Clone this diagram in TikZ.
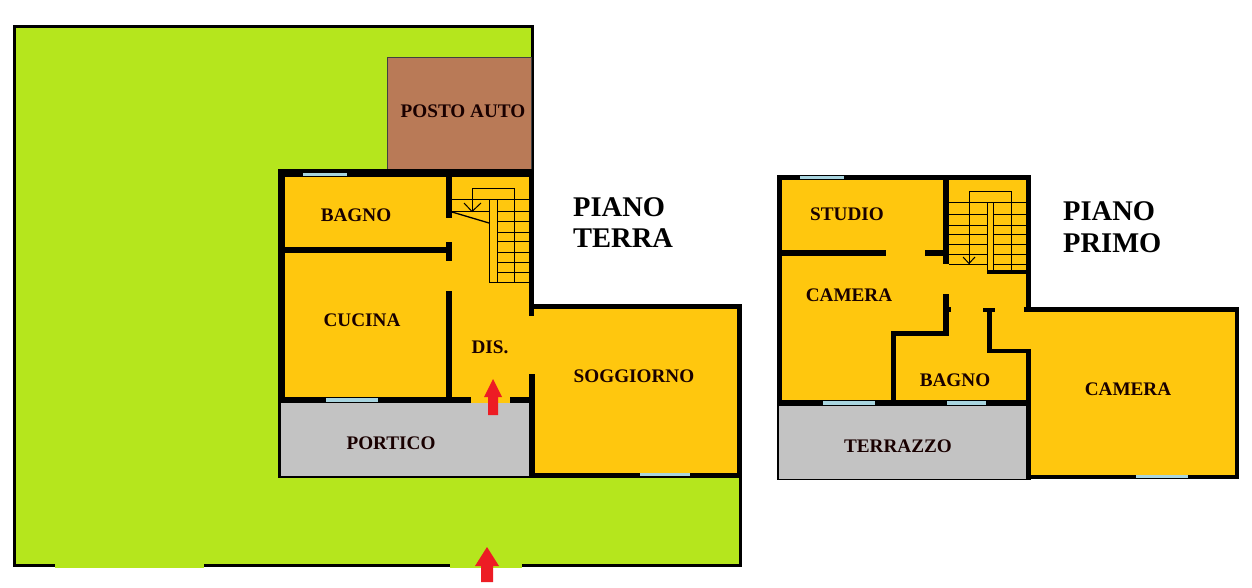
\documentclass[tikz,border=0pt]{standalone}
\usepackage{fontspec}
\setmainfont{Liberation Serif}
\definecolor{lawn}{HTML}{B5E61D}
\definecolor{floorc}{HTML}{FFC70E}
\definecolor{parkc}{HTML}{B97A57}
\definecolor{glass}{HTML}{A9D5DF}
\definecolor{greyc}{HTML}{C3C3C3}
\definecolor{redc}{HTML}{ED1C24}
\tikzset{
  wall/.style={fill=black,draw=none},
  glasspane/.style={fill=glass,draw=none},
  stair/.style={draw=black,line width=1pt,fill=none},
  roomlabel/.style={font=\bfseries\fontsize{19.2}{21}\selectfont,text=black!90!red,inner sep=0pt,anchor=center},
  titlelabel/.style={font=\bfseries\fontsize{28.5}{31}\selectfont,text=black,inner sep=0pt,anchor=base west},
  redarrow/.style={fill=redc,draw=none}
}
\begin{document}
\begin{tikzpicture}[x=1pt,y=-1pt]
\useasboundingbox (0,0) rectangle (1252,587);
\fill[white] (0,0) rectangle (1252,587);
% lawn
\fill[lawn,draw=black,line width=3pt] (14.5,26.5) -- (532.5,26.5) -- (532.5,306) -- (740.5,306) -- (740.5,565.5) -- (14.5,565.5) -- cycle;
\fill[lawn] (55,562) rectangle (204,568);
\fill[lawn] (450,562) rectangle (522,568);
% parking
\fill[parkc,draw=black!75,line width=1pt] (531,57.5) -- (387,57.5) -- (387,170) -- (531,170) -- cycle;
% ground floor
\fill[floorc] (279,170) -- (533,170) -- (533,305) -- (740,305) -- (740,476) -- (533,476) -- (533,403) -- (279,403) -- cycle;
\fill[greyc] (280,403) rectangle (530,476);
\fill[wall] (278,169) rectangle (534,177);
\fill[wall] (278,169) rectangle (285,403);
\fill[wall] (529,169) rectangle (534,316);
\fill[wall] (529,304) rectangle (742,309);
\fill[wall] (737,304) rectangle (742,478);
\fill[wall] (529,472.5) rectangle (742,478);
\fill[wall] (529,374) rectangle (535,478);
\fill[wall] (446,177) rectangle (452,218);
\fill[wall] (285,247) rectangle (446,253);
\fill[wall] (446,242) rectangle (452,261);
\fill[wall] (446,291) rectangle (452,400);
\fill[wall] (278,397) rectangle (471,403);
\fill[wall] (510,397) rectangle (530,403);
\fill[wall] (278,403) rectangle (281,478);
\fill[wall] (278,476) rectangle (530,478);
\fill[glasspane] (303,173) rectangle (347,176);
\fill[glasspane] (326,398) rectangle (378,402);
\fill[glasspane] (640,473) rectangle (690,476);
% ground floor stairs
\draw[stair] (472,212) -- (472,188) -- (514,188) -- (514,282);
\draw[stair] (489,282) -- (489,199) -- (497,199) -- (497,282);
\draw[stair] (489,282) -- (529,282);
\foreach \yy in {211,221,232,241,252,262,272} \draw[stair] (497,\yy) -- (529,\yy);
\draw[stair] (452,199) -- (529,199);
\draw[stair] (452,211) -- (489,211);
\draw[stair] (464,203) -- (472,211.5) -- (481,203);
\draw[black,line width=1.3pt] (452,212) -- (489,223);
% first floor
\fill[floorc] (778,176) -- (1030,176) -- (1030,308) -- (1238,308) -- (1238,478) -- (1030,478) -- (1030,404) -- (778,404) -- cycle;
\fill[greyc] (778,405) rectangle (1028,479);
\fill[wall] (777,175) rectangle (1031,180);
\fill[wall] (777,175) rectangle (782,405);
\fill[wall] (1026,175) rectangle (1031,312);
\fill[wall] (1024,307) rectangle (1239,312);
\fill[wall] (1235,307) rectangle (1239,479);
\fill[wall] (1026,475) rectangle (1239,479);
\fill[wall] (1026,349) rectangle (1031,480);
\fill[wall] (777,400) rectangle (1031,406);
\fill[wall] (943,180) rectangle (949,264);
\fill[wall] (782,250) rectangle (886,256);
\fill[wall] (925,250) rectangle (943,256);
\fill[wall] (943,294) rectangle (949,336);
\fill[wall] (949,307) rectangle (951,312);
\fill[wall] (891,331) rectangle (949,336);
\fill[wall] (891,331) rectangle (896,402);
\fill[wall] (983,308) rectangle (995,312);
\fill[wall] (987,308) rectangle (992,353);
\fill[wall] (987,349) rectangle (1031,353);
\fill[wall] (987,270) rectangle (1026,274);
\fill[wall] (777,405) rectangle (778.5,480);
\fill[wall] (777,478.5) rectangle (1028,480);
\fill[glasspane] (800,176) rectangle (844,179);
\fill[glasspane] (823,401) rectangle (875,405);
\fill[glasspane] (947,401) rectangle (986,405);
\fill[glasspane] (1136,475) rectangle (1188,478);
% first floor stairs
\draw[stair] (969,264) -- (969,191) -- (1011,191) -- (1011,272);
\draw[stair] (987,272) -- (987,202) -- (993,202) -- (993,272);
\foreach \yy in {202,214,225,234,244,254,264} {\draw[stair] (949,\yy) -- (987,\yy); \draw[stair] (993,\yy) -- (1026,\yy);}
\draw[stair] (963,257) -- (969,263.5) -- (975,257);
% arrows
\fill[redarrow] (493,379) -- (502,397) -- (498,397) -- (498,415) -- (488,415) -- (488,397) -- (484,397) -- cycle;
\fill[redarrow] (487,547) -- (499,566) -- (493,566) -- (493,582) -- (481,582) -- (481,566) -- (475,566) -- cycle;
% labels
\node[roomlabel] (posto) at (463,111) {POSTO AUTO};
\node[roomlabel] (bagno) at (356,215) {BAGNO};
\node[roomlabel] (cucina) at (362,320) {CUCINA};
\node[roomlabel] (dis) at (490,347) {DIS.};
\node[roomlabel] (soggiorno) at (634,376) {SOGGIORNO};
\node[roomlabel] (portico) at (391,443) {PORTICO};
\node[roomlabel] (studio) at (847,214) {STUDIO};
\node[roomlabel] (camera) at (849,295) {CAMERA};
\node[roomlabel] (bagnob) at (955,380) {BAGNO};
\node[roomlabel] (camerab) at (1128,389) {CAMERA};
\node[roomlabel] (terrazzo) at (898,446) {TERRAZZO};
\node[titlelabel] (piano) at (573,216) {PIANO};
\node[titlelabel] (terra) at (573,247) {TERRA};
\node[titlelabel] (pianob) at (1063,220) {PIANO};
\node[titlelabel] (primo) at (1063,252) {PRIMO};
\end{tikzpicture}
\end{document}
